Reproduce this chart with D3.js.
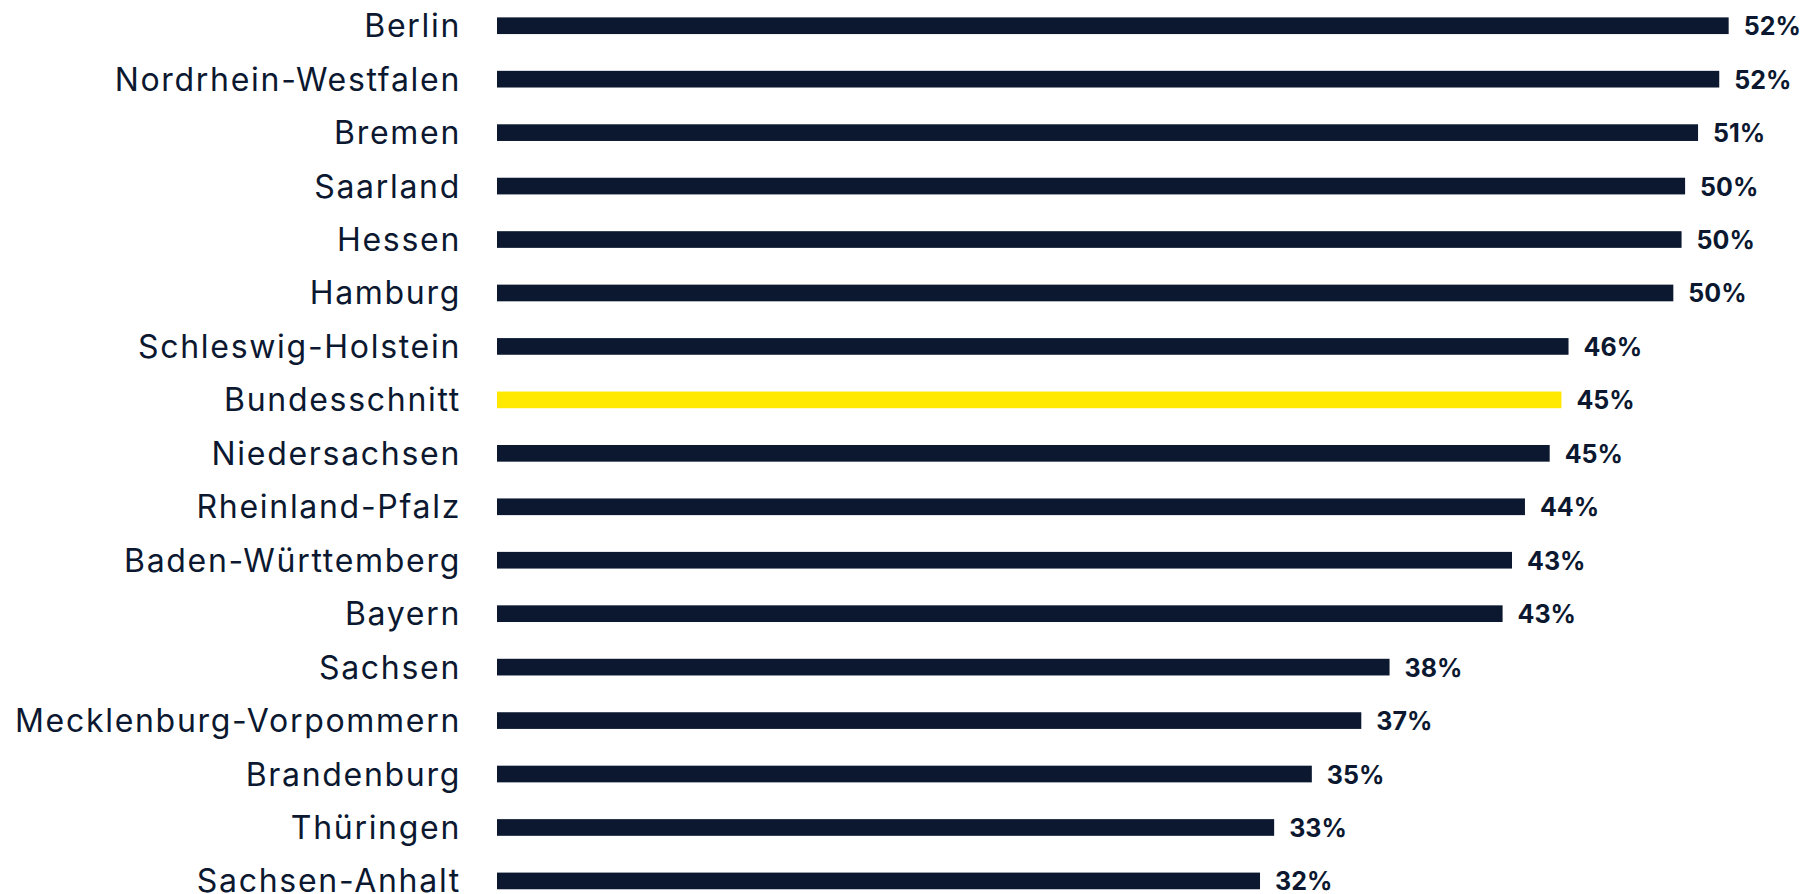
<!DOCTYPE html>
<html>
<head>
<meta charset="utf-8">
<script src="https://cdn.jsdelivr.net/npm/d3@7"></script>
<style>
  body { margin: 0; background: #fff; }
  svg { display: block; }
</style>
</head>
<body>
<div id="bar_chart"></div>
<script>
// Länder, sorted as in the original
const states = [
    "Berlin", "Nordrhein-Westfalen", "Bremen", "Saarland", "Hessen", "Hamburg",
    "Schleswig-Holstein", "Bundesschnitt", "Niedersachsen", "Rheinland-Pfalz",
    "Baden-Württemberg", "Bayern", "Sachsen", "Mecklenburg-Vorpommern",
    "Brandenburg", "Thüringen", "Sachsen-Anhalt"
];
// share in percent
const shares = [
    52.3, 51.9, 51.0, 50.45, 50.3, 49.95,
    45.5, 45.2, 44.7, 43.65,
    43.1, 42.7, 37.9, 36.7,
    34.6, 33.0, 32.4
];
const highlight = ["Bundesschnitt"];

const width = 1806, height = 894;
const navy = "#0b1830", yellow = "#ffe900";

const data = states.map((s, i) => ({ state: s, value: shares[i] }));

const svg = d3.select("#bar_chart")
    .append("svg")
    .attr("width", width)
    .attr("height", height);

const x = d3.scaleLinear()
    .domain([0, 55])
    .range([497, 497 + 55 * 23.55]);

const y = d3.scaleBand()
    .domain(states)
    .range([-1, -1 + states.length * 53.45])
    .paddingInner(0.688)
    .paddingOuter(0.344);

// category labels
svg.append("g")
    .selectAll("text")
    .data(data)
    .enter()
    .append("text")
    .attr("x", 461)
    .attr("y", d => y(d.state) + y.bandwidth() / 2 + 11.5)
    .attr("text-anchor", "end")
    .attr("font-family", "Inter, sans-serif")
    .attr("font-size", 32)
    .attr("letter-spacing", 1.7)
    .attr("fill", navy)
    .text(d => d.state);

// bars
svg.append("g")
    .selectAll("rect")
    .data(data)
    .enter()
    .append("rect")
    .attr("x", x(0))
    .attr("y", d => y(d.state))
    .attr("width", d => x(d.value) - x(0))
    .attr("height", y.bandwidth())
    .attr("fill", d => highlight.includes(d.state) ? yellow : navy);

// value labels
svg.append("g")
    .selectAll("text")
    .data(data)
    .enter()
    .append("text")
    .attr("x", d => x(d.value) + 15)
    .attr("y", d => y(d.state) + y.bandwidth() / 2 + 9.5)
    .attr("font-family", "Inter, sans-serif")
    .attr("font-weight", 700)
    .attr("font-size", 25)
    .attr("fill", navy)
    .text(d => d3.format(".0f")(d.value) + "%");
</script>
</body>
</html>
